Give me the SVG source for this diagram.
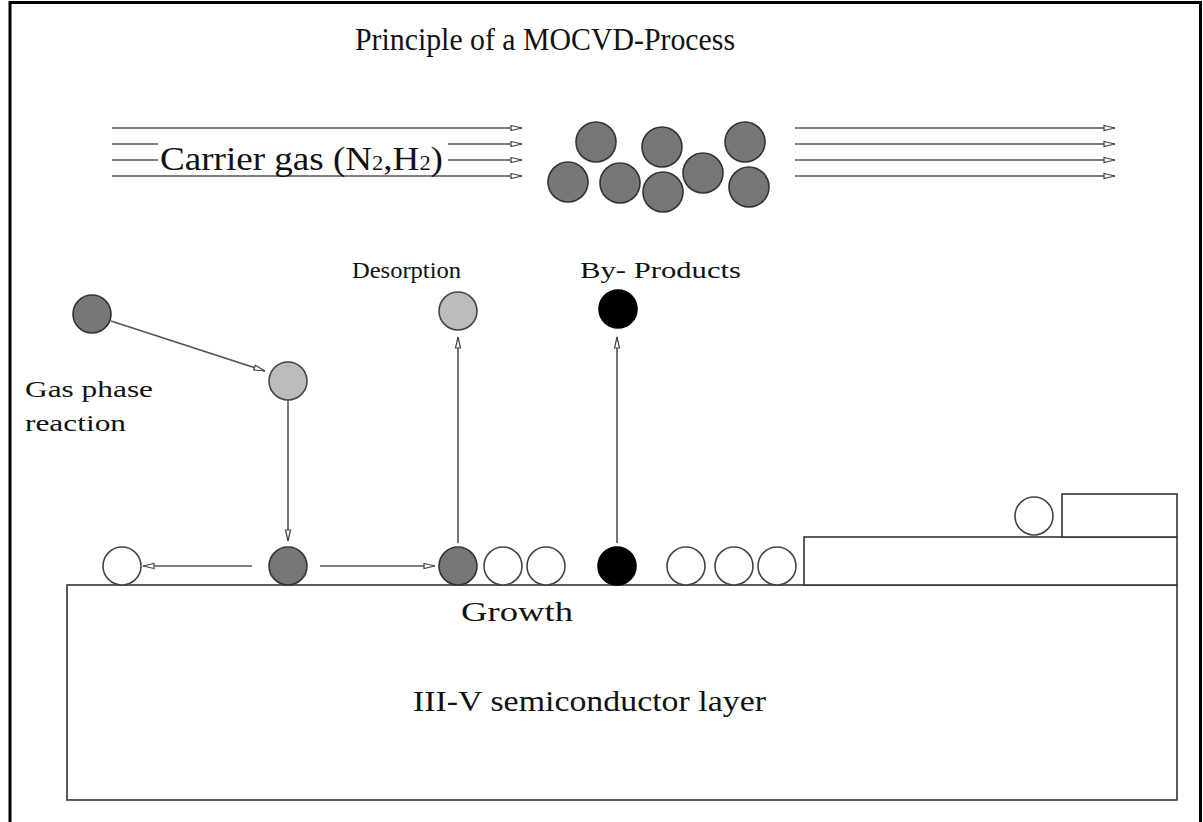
<svg xmlns="http://www.w3.org/2000/svg" width="1203" height="822" viewBox="0 0 1203 822">
<style>
text{font-family:"Liberation Serif","Times New Roman",serif;fill:#111}
.dk{fill:#777;stroke:#333;stroke-width:1.6}
.lt{fill:#bbb;stroke:#444;stroke-width:1.6}
.bk{fill:#000;stroke:#000;stroke-width:1.6}
.wh{fill:#fff;stroke:#444;stroke-width:1.6}
.ln{stroke:#555;stroke-width:1.6;fill:none}
.box{fill:#fff;stroke:#333;stroke-width:1.6}
</style>
<defs>
<marker id="ah" markerWidth="14" markerHeight="10" refX="12" refY="5" orient="auto" markerUnits="userSpaceOnUse">
<path d="M1,2.5 L12,5 L1,7.5 Z" fill="#fff" stroke="#444" stroke-width="1.2"/>
</marker>
</defs>
<rect x="0" y="0" width="1203" height="822" fill="#fff"/>
<path d="M10,822 V2.5 H1200.5 V822" fill="none" stroke="#000" stroke-width="3"/>
<text x="545" y="50" font-size="31" text-anchor="middle" textLength="380" lengthAdjust="spacingAndGlyphs">Principle of a MOCVD-Process</text>

<g id="substrate">
<rect class="box" x="67" y="585" width="1110" height="215"/>
<text x="461" y="621" font-size="27" textLength="112" lengthAdjust="spacingAndGlyphs">Growth</text>
<text x="413" y="711" font-size="29" textLength="353" lengthAdjust="spacingAndGlyphs">III-V semiconductor layer</text>
</g>
<g id="steps">
<rect class="box" x="804" y="537" width="373" height="48"/>
<rect class="box" x="1062" y="494" width="115" height="43"/>
<circle class="wh" cx="1034" cy="516" r="19"/>
</g>

<g id="connectors">
<line class="ln" x1="112" y1="128" x2="522" y2="128" marker-end="url(#ah)"/>
<line class="ln" x1="112" y1="144" x2="158" y2="144"/>
<line class="ln" x1="448" y1="144" x2="522" y2="144" marker-end="url(#ah)"/>
<line class="ln" x1="112" y1="160" x2="158" y2="160"/>
<line class="ln" x1="448" y1="160" x2="522" y2="160" marker-end="url(#ah)"/>
<line class="ln" x1="112" y1="176" x2="522" y2="176" marker-end="url(#ah)"/>
<line class="ln" x1="795" y1="128" x2="1115" y2="128" marker-end="url(#ah)"/>
<line class="ln" x1="795" y1="144" x2="1115" y2="144" marker-end="url(#ah)"/>
<line class="ln" x1="795" y1="160" x2="1115" y2="160" marker-end="url(#ah)"/>
<line class="ln" x1="795" y1="176" x2="1115" y2="176" marker-end="url(#ah)"/>
<line class="ln" x1="111" y1="321" x2="265" y2="371" marker-end="url(#ah)"/>
<line class="ln" x1="288" y1="400" x2="288" y2="541" marker-end="url(#ah)"/>
<line class="ln" x1="252" y1="566" x2="143" y2="566" marker-end="url(#ah)"/>
<line class="ln" x1="320" y1="566" x2="435" y2="566" marker-end="url(#ah)"/>
<line class="ln" x1="458" y1="543" x2="458" y2="337" marker-end="url(#ah)"/>
<line class="ln" x1="617" y1="543" x2="617" y2="337" marker-end="url(#ah)"/>
</g>

<g id="carrier-gas">
<text x="160" y="170" font-size="33" textLength="283" lengthAdjust="spacingAndGlyphs">Carrier gas (N<tspan font-size="20">2</tspan>,H<tspan font-size="20">2</tspan>)</text>
</g>
<g id="gas-cluster">
<circle class="dk" cx="596" cy="142" r="20"/>
<circle class="dk" cx="662" cy="147" r="20"/>
<circle class="dk" cx="745" cy="142" r="20"/>
<circle class="dk" cx="568" cy="182" r="20"/>
<circle class="dk" cx="620" cy="183" r="20"/>
<circle class="dk" cx="663" cy="192" r="20"/>
<circle class="dk" cx="703" cy="173" r="20"/>
<circle class="dk" cx="749" cy="187" r="20"/>
</g>
<g id="gas-phase-reaction">
<circle class="dk" cx="92" cy="314" r="19"/>
<circle class="lt" cx="288" cy="381" r="19"/>
<text x="25" y="397" font-size="24" textLength="128" lengthAdjust="spacingAndGlyphs">Gas phase</text>
<text x="25" y="431" font-size="24" textLength="101" lengthAdjust="spacingAndGlyphs">reaction</text>
</g>
<g id="desorption">
<text x="352" y="278" font-size="24" textLength="109" lengthAdjust="spacingAndGlyphs">Desorption</text>
<circle class="lt" cx="458" cy="311" r="19"/>
</g>
<g id="by-products">
<text x="580" y="278" font-size="24" textLength="161" lengthAdjust="spacingAndGlyphs">By- Products</text>
<circle class="bk" cx="618" cy="309" r="19"/>
</g>
<g id="surface-row">
<circle class="wh" cx="122" cy="566" r="19"/>
<circle class="dk" cx="288" cy="566" r="19"/>
<circle class="dk" cx="458" cy="566" r="19"/>
<circle class="wh" cx="503" cy="566" r="19"/>
<circle class="wh" cx="546" cy="566" r="19"/>
<circle class="bk" cx="617" cy="566" r="19"/>
<circle class="wh" cx="686" cy="566" r="19"/>
<circle class="wh" cx="734" cy="566" r="19"/>
<circle class="wh" cx="777" cy="566" r="19"/>
</g>
</svg>
